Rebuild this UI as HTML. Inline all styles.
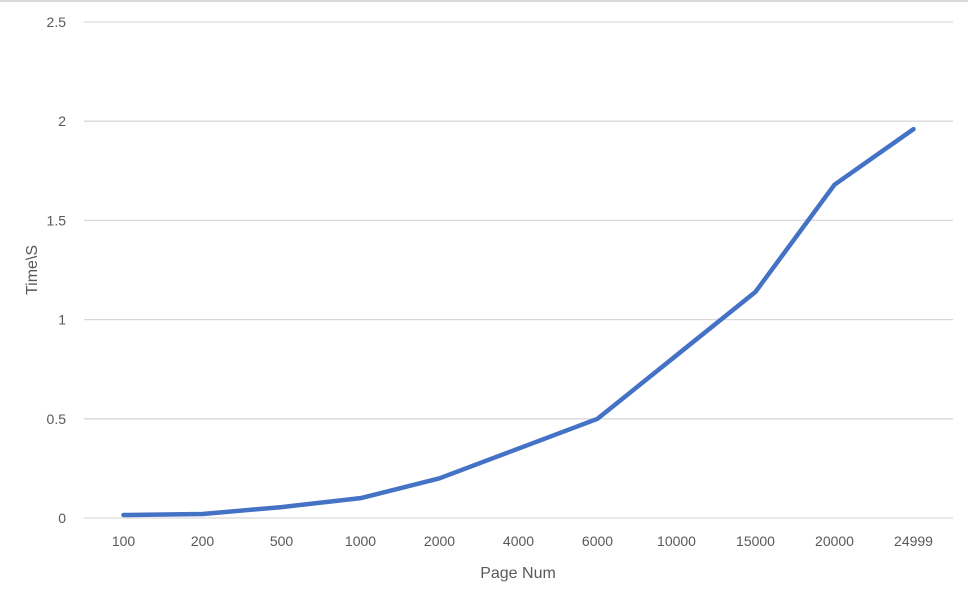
<!DOCTYPE html>
<html><head><meta charset="utf-8"><style>
html,body{margin:0;padding:0;background:#fff;}
svg{display:block;font-family:"Liberation Sans",sans-serif;}
</style></head><body>
<svg id="chart" width="968" height="602" viewBox="0 0 968 602" xmlns="http://www.w3.org/2000/svg">
<rect x="0" y="0" width="968" height="2" fill="#d9d9d9"/>
<g id="grid"></g><g id="yticks"></g><g id="xticks"></g>
<path id="line" fill="none" stroke="#4472c4" stroke-width="4.5" stroke-linejoin="round" stroke-linecap="round"/>
<text x="518" y="578" text-anchor="middle" font-size="16" fill="#595959">Page Num</text>
<text transform="translate(37,270) rotate(-90)" text-anchor="middle" font-size="16" fill="#595959">Time\S</text>
</svg>
<script>
const categories=["100","200","500","1000","2000","4000","6000","10000","15000","20000","24999"];
const values=[0.015,0.02,0.055,0.1,0.2,0.35,0.5,0.82,1.14,1.68,1.96];
const yTicks=[0,0.5,1,1.5,2,2.5];
const yTickLabels=["0","0.5","1","1.5","2","2.5"];
const NS="http://www.w3.org/2000/svg";
const plotL=84,plotR=953,plotT=22,plotB=518,ymax=2.5;
const band=(plotR-plotL)/categories.length;
const xs=i=>plotL+band*(i+0.5);
const ys=v=>plotB-(v/ymax)*(plotB-plotT);
function mk(tag,attrs,parent){const e=document.createElementNS(NS,tag);for(const k in attrs)e.setAttribute(k,attrs[k]);parent.appendChild(e);return e;}
const grid=document.getElementById('grid'),yt=document.getElementById('yticks'),xt=document.getElementById('xticks');
yTicks.forEach((t,i)=>{
 const y=ys(t);
 const l=mk('line',{x1:plotL,x2:plotR,y1:y,y2:y,stroke:'#d9d9d9','stroke-width':1.3},grid);
 
 
 const tx=mk('text',{x:66,y:y+5,'text-anchor':'end','font-size':14,fill:'#595959'},yt);
 tx.textContent=yTickLabels[i];
 
 
});
categories.forEach((c,i)=>{
 const tx=mk('text',{x:xs(i),y:546,'text-anchor':'middle','font-size':14,fill:'#595959'},xt);
 tx.textContent=c;
 
 
});
document.getElementById('line').setAttribute('d',values.map((v,i)=>(i?'L':'M')+xs(i)+','+ys(v)).join(' '));
</script>
</body></html>
